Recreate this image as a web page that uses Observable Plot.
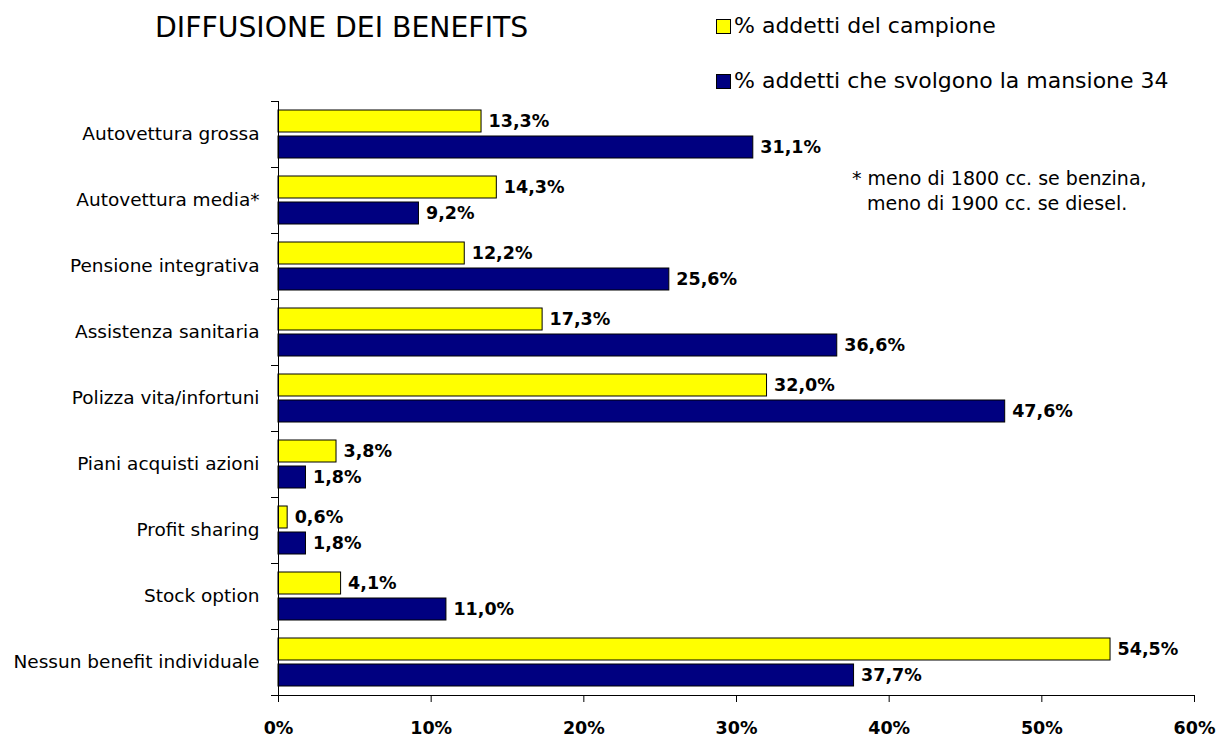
<!DOCTYPE html>
<html>
<head>
<meta charset="utf-8">
<script src="https://cdn.jsdelivr.net/npm/d3@7"></script>
<script src="https://cdn.jsdelivr.net/npm/@observablehq/plot@0.6"></script>
<style>
  html, body { margin: 0; padding: 0; background: #fff; }
  #wrap { position: relative; width: 1218px; height: 740px; font-family: "DejaVu Sans", sans-serif; color: #000; overflow: hidden; }
  #chart { position: absolute; left: 0; top: 0; }
  .title { position: absolute; left: 155px; top: 13px; font-size: 28.3px; line-height: 30px; white-space: nowrap; }
  .leg { position: absolute; left: 716px; display: flex; align-items: center; font-size: 22px; line-height: 24px; white-space: nowrap; }
  .sw { width: 13px; height: 13px; border: 1px solid #000; margin-right: 3px; flex: none; }
  .note { position: absolute; left: 852px; font-size: 19px; line-height: 25px; white-space: nowrap; }
</style>
</head>
<body>
<div id="wrap">
  <div id="chart"></div>
  <div class="title" id="title"></div>
  <div id="legend"></div>
  <div id="note"></div>
</div>
<script>
// ---- data ----
const title = "DIFFUSIONE DEI BENEFITS";
const categories = [
  "Autovettura grossa",
  "Autovettura media*",
  "Pensione integrativa",
  "Assistenza sanitaria",
  "Polizza vita/infortuni",
  "Piani acquisti azioni",
  "Profit sharing",
  "Stock option",
  "Nessun benefit individuale"
];
const seriesNames = ["% addetti del campione", "% addetti che svolgono la mansione 34"];
const campione = [13.3, 14.3, 12.2, 17.3, 32.0, 3.8, 0.6, 4.1, 54.5];
const mansione34 = [31.1, 9.2, 25.6, 36.6, 47.6, 1.8, 1.8, 11.0, 37.7];
const seriesColors = ["#FFFF00", "#000080"];
const xTicks = [0, 10, 20, 30, 40, 50, 60];
const xDomain = [0, 60];
const noteLines = ["* meno di 1800 cc. se benzina,", "meno di 1900 cc. se diesel."];

// ---- table ----
const seriesValues = [campione, mansione34];
const data = categories.flatMap((c, i) =>
  seriesNames.map((s, j) => ({category: c, series: s, value: seriesValues[j][i]}))
);

const W = 1218, H = 740, mL = 278, mR = 24, mT = 98, mB = 42;
const innerW = W - mL - mR;
const fmt = v => v.toFixed(1).replace(".", ",") + "%";

const chart = Plot.plot({
  width: W,
  height: H,
  marginLeft: mL,
  marginRight: mR,
  marginTop: mT,
  marginBottom: mB,
  style: {fontFamily: "DejaVu Sans, sans-serif", background: "white", color: "black", overflow: "visible"},
  x: {domain: xDomain, axis: null},
  fy: {domain: categories, padding: 0, axis: null},
  y: {domain: seriesNames, paddingInner: 0.16, paddingOuter: 0.33, axis: null},
  color: {domain: seriesNames, range: seriesColors},
  marks: [
    Plot.barX(data, {fy: "category", y: "series", x: "value", fill: "series", stroke: "black", strokeWidth: 1}),
    Plot.text(data, {fy: "category", y: "series", x: "value", text: d => fmt(d.value), textAnchor: "start", dx: 7, fontWeight: "bold", fontSize: 17.5, fill: "black"}),
    Plot.ruleX([0], {stroke: "black", strokeWidth: 1}),
    Plot.frame({anchor: "top", insetLeft: -7, insetRight: innerW, stroke: "black"}),
    Plot.frame({anchor: "bottom", insetLeft: -7, insetRight: innerW, stroke: "black"}),
    Plot.frame({anchor: "bottom", facetAnchor: "bottom", stroke: "black"}),
    Plot.axisX({ticks: xTicks, tickFormat: d => d + "%", tickSize: 7, tickPadding: 19, label: null, fontSize: 17.5, fontWeight: "bold", stroke: "black", color: "black"}),
    Plot.axisFy({anchor: "left", tickSize: 0, tickPadding: 19, label: null, fontSize: 18.5})
  ]
});
document.getElementById("chart").appendChild(chart);

document.getElementById("title").textContent = title;

const legend = document.getElementById("legend");
seriesNames.forEach((s, i) => {
  const row = document.createElement("div");
  row.className = "leg";
  row.style.top = (14 + i * 55) + "px";
  const sw = document.createElement("div");
  sw.className = "sw";
  sw.style.background = seriesColors[i];
  const tx = document.createElement("span");
  tx.textContent = s;
  row.appendChild(sw);
  row.appendChild(tx);
  legend.appendChild(row);
});

const note = document.getElementById("note");
noteLines.forEach((t, i) => {
  const d = document.createElement("div");
  d.className = "note";
  d.style.top = (166 + i * 25) + "px";
  if (i > 0) d.style.left = (852 + 15) + "px";
  d.textContent = t;
  note.appendChild(d);
});
</script>
</body>
</html>
